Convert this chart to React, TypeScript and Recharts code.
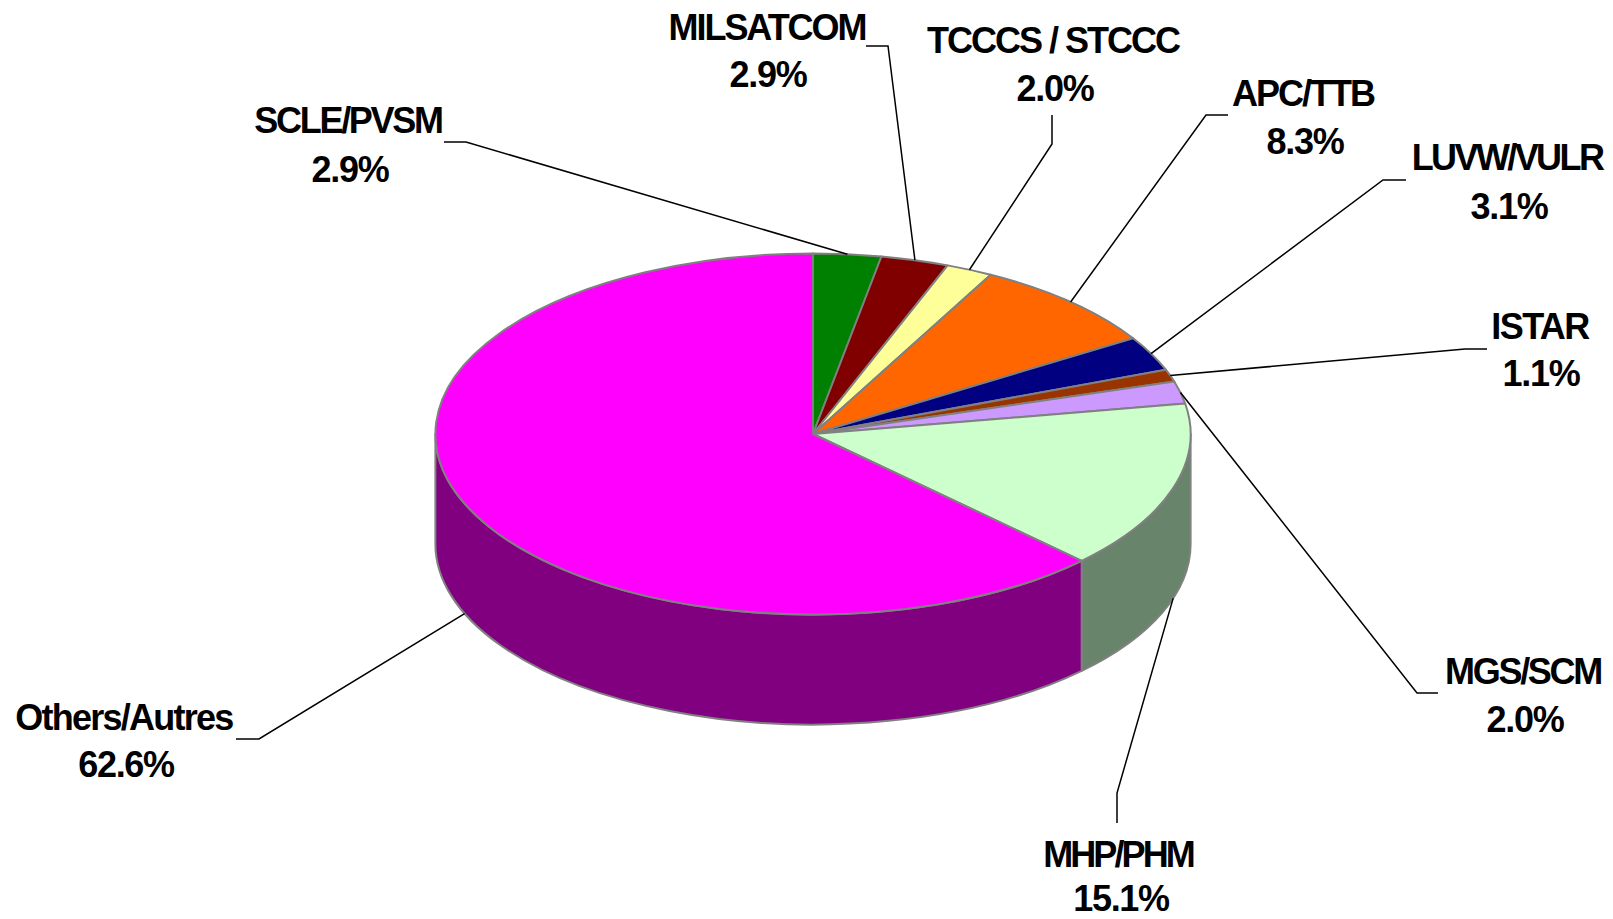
import { Pie, PieChart } from 'recharts';

const NAMES = ['SCLE/PVSM', 'MILSATCOM', 'TCCCS / STCCC', 'APC/TTB', 'LUVW/VULR', 'ISTAR', 'MGS/SCM', 'MHP/PHM', 'Others/Autres'];
const SHARES = [2.9, 2.9, 2.0, 8.3, 3.1, 1.1, 2.0, 15.1, 62.6];

const TOP_COLORS = ['#008000', '#800000', '#FFFF99', '#FF6600', '#000080', '#993300', '#CC99FF', '#CCFFCC', '#FF00FF'];
const WALL_COLORS = ['#004000', '#400000', '#808050', '#803300', '#000040', '#4d1a00', '#664d80', '#68846A', '#800080'];

// leader elbow, leader end, text centre x (name, percent), the two line centres, name tracking
const LABEL_SPOTS = [
  { ex: 466, ey: 142, lx: 444, ly: 142, tx: 348, px: 350, y1: 120, y2: 169, ls: -2.3 },
  { ex: 888, ey: 46, lx: 866, ly: 46, tx: 767, px: 768, y1: 27, y2: 74, ls: -2.05 },
  { ex: 1052, ey: 144, lx: 1052, ly: 115, tx: 1053, px: 1055, y1: 40, y2: 88, ls: -2.0 },
  { ex: 1206, ey: 115, lx: 1228, ly: 115, tx: 1303, px: 1305, y1: 93, y2: 141, ls: -2.0 },
  { ex: 1383, ey: 180, lx: 1406, ly: 180, tx: 1507, px: 1509, y1: 157, y2: 206, ls: -2.6 },
  { ex: 1465, ey: 349, lx: 1487, ly: 349, tx: 1540, px: 1541, y1: 326, y2: 373, ls: -1.6 },
  { ex: 1417, ey: 693, lx: 1438, ly: 693, tx: 1523, px: 1525, y1: 671, y2: 719, ls: -2.3 },
  { ex: 1117, ey: 793, lx: 1117, ly: 823, tx: 1118, px: 1121, y1: 854, y2: 898, ls: -2.9 },
  { ex: 259, ey: 739, lx: 236, ly: 739, tx: 124, px: 126, y1: 717, y2: 764, ls: -1.75 },
];

const CX = 813;
const CY = 434;
const RADIUS = 377.6;
const TILT = 0.478; // vertical squash of the disc
const DEPTH = 110;
const EDGE = '#808080';

const rad = (deg: number) => (deg * Math.PI) / 180;

function rim(cx: number, cy: number, r: number, deg: number) {
  return { x: cx + r * Math.cos(rad(deg)), y: cy - r * TILT * Math.sin(rad(deg)) };
}

function TopSlice(props: any) {
  const { cx, cy, outerRadius: r, startAngle, endAngle, fill } = props;
  const a = rim(cx, cy, r, startAngle);
  const b = rim(cx, cy, r, endAngle);
  const large = Math.abs(endAngle - startAngle) > 180 ? 1 : 0;
  const d = `M${cx},${cy} L${a.x},${a.y} A${r},${r * TILT} 0 ${large} 1 ${b.x},${b.y} Z`;
  return <path d={d} fill={fill} stroke={EDGE} strokeWidth={2} strokeLinejoin="round" />;
}

function WallSlice(props: any) {
  const { cx, cy, outerRadius: r, startAngle, endAngle, fill } = props;
  // only the front half of the rim shows a wall (angles run clockwise from 90 to -270)
  const from = Math.min(startAngle, 0);
  const to = Math.max(endAngle, -180);
  if (from <= to) return null;
  const a = rim(cx, cy, r, from);
  const b = rim(cx, cy, r, to);
  const d = `M${a.x},${a.y} A${r},${r * TILT} 0 0 1 ${b.x},${b.y} L${b.x},${b.y + DEPTH} A${r},${r * TILT} 0 0 0 ${a.x},${a.y + DEPTH} Z`;
  return <path d={d} fill={fill} stroke={EDGE} strokeWidth={2} strokeLinejoin="round" />;
}

function SliceLabel(props: any) {
  const { cx, cy, outerRadius: r, midAngle, index } = props;
  const spot = LABEL_SPOTS[index];
  const p = rim(cx, cy, r, midAngle);
  const py = Math.sin(rad(midAngle)) < 0 ? p.y + DEPTH : p.y;
  const textStyle = {
    fontFamily: '"Liberation Sans", Arial, sans-serif',
    fontWeight: 700,
    fontSize: 36,
  };
  return (
    <g>
      <polyline
        points={`${p.x},${py} ${spot.ex},${spot.ey} ${spot.lx},${spot.ly}`}
        fill="none"
        stroke="#000"
        strokeWidth={1.5}
      />
      <text x={spot.tx} y={spot.y1} textAnchor="middle" dominantBaseline="central" fill="#000" style={{ ...textStyle, letterSpacing: spot.ls }}>
        {NAMES[index]}
      </text>
      <text x={spot.px} y={spot.y2} textAnchor="middle" dominantBaseline="central" fill="#000" style={{ ...textStyle, letterSpacing: -1.3 }}>
        {SHARES[index].toFixed(1)}%
      </text>
    </g>
  );
}

const topData = NAMES.map((name, i) => ({ name, value: SHARES[i], fill: TOP_COLORS[i] }));
const wallData = NAMES.map((name, i) => ({ name, value: SHARES[i], fill: WALL_COLORS[i] }));

export default function App() {
  return (
    <div style={{ position: 'absolute', left: 0, top: 0, width: 1613, height: 919, background: '#fff' }}>
      <PieChart width={1613} height={919} margin={{ top: 0, right: 0, bottom: 0, left: 0 }}>
        <Pie
          data={wallData}
          dataKey="value"
          cx={CX}
          cy={CY}
          outerRadius={RADIUS}
          startAngle={90}
          endAngle={-270}
          shape={WallSlice}
          isAnimationActive={false}
          rootTabIndex={-1}
        />
        <Pie
          data={topData}
          dataKey="value"
          cx={CX}
          cy={CY}
          outerRadius={RADIUS}
          startAngle={90}
          endAngle={-270}
          shape={TopSlice}
          label={SliceLabel}
          labelLine={false}
          isAnimationActive={false}
          rootTabIndex={-1}
        />
      </PieChart>
    </div>
  );
}
